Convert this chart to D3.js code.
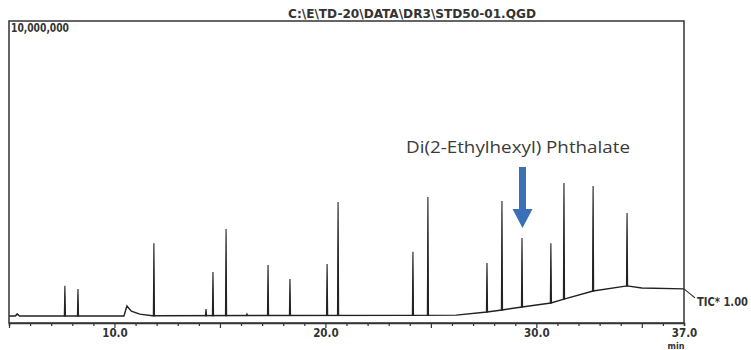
<!DOCTYPE html>
<html>
<meta charset="utf-8">
<style>
  body { margin: 0; background: #fff; }
  text { font-family: "Liberation Sans Narrow", "DejaVu Sans Condensed", sans-serif; font-weight: bold; fill: #333; }
  .note { font-family: "Open Sans", sans-serif; font-weight: normal; fill: #3a3a3a; }
</style>
<body>
  <script src="https://d3js.org/d3.v7.min.js"></script>
  <script>
    var width = 751, height = 350;

    // retention times (min) and apex heights (% of 10,000,000 full scale)
    var peakTimes = [5.38, 7.65, 8.27, 11.87, 14.34, 14.67, 15.29, 16.28, 17.28, 18.32, 20.08, 20.60,
                     24.15, 24.86, 27.66, 28.37, 29.32, 30.69, 31.31, 32.69, 34.30];
    var peakHeights = [2.7, 12.0, 11.0, 26.2, 4.3, 16.6, 30.9, 2.7, 18.9, 14.3, 19.3, 39.9,
                       23.3, 41.5, 19.6, 40.2, 27.9, 26.2, 46.2, 45.2, 36.2];

    // baseline drift of the TIC trace
    var baseTimes = [5.0, 5.3, 5.4, 5.5, 10.45, 10.59, 10.8, 11.2, 11.8, 24.0, 26.2, 27.66, 28.37, 29.32,
                     30.69, 31.31, 32.69, 34.30, 35.0, 37.0];
    var baseValues = [2.0, 2.0, 2.6, 2.0, 2.0, 5.3, 3.6, 2.6, 2.1, 2.2, 2.3, 3.3, 4.0, 5.0,
                      6.3, 7.6, 10.3, 12.0, 11.3, 11.0];

    var labelTicks = [10, 20, 30, 37];
    var majorTicks = [5, 10, 15, 20, 25, 30, 35];

    var margin = {top: 21, right: 67, bottom: 28, left: 9};
    var x = d3.scaleLinear().domain([5, 37]).range([margin.left, width - margin.right]);
    var y = d3.scaleLinear().domain([0, 100]).range([height - margin.bottom, margin.top]);

    var svg = d3.select("body").append("svg")
        .attr("width", width)
        .attr("height", height);

    // trace
    var baseline = baseTimes.map((t, i) => [t, baseValues[i]]);
    var baseAt = d3.scaleLinear().domain(baseTimes).range(baseValues);

    svg.append("path")
        .datum(baseline)
        .attr("fill", "none")
        .attr("stroke", "#222")
        .attr("stroke-width", 1.4)
        .attr("d", d3.line().x(d => x(d[0])).y(d => y(d[1])));

    svg.append("g")
        .selectAll("path")
        .data(peakTimes.map((t, i) => [t, peakHeights[i]]))
        .join("path")
          .attr("fill", "#222")
          .attr("stroke", "#222")
          .attr("stroke-width", 1.1)
          .attr("d", d => {
            var b = y(baseAt(d[0]));
            return `M${x(d[0]) - 0.6},${b}L${x(d[0])},${y(d[1])}L${x(d[0]) + 0.6},${b}Z`;
          });

    // frame
    svg.append("rect")
        .attr("x", x(5))
        .attr("y", margin.top)
        .attr("width", x(37) - x(5))
        .attr("height", y(0) - margin.top + 1)
        .attr("fill", "none")
        .attr("stroke", "#333")
        .attr("stroke-width", 1.5);

    // x axis
    var axis = svg.append("g")
        .attr("transform", `translate(0,${y(0) + 1})`)
        .call(d3.axisBottom(x)
          .tickValues(d3.range(5, 38))
          .tickSize(3)
          .tickPadding(3)
          .tickFormat(d => labelTicks.includes(d) ? d.toFixed(1) : ""));
    axis.select(".domain").attr("stroke", "#333").attr("stroke-width", 1.5);
    axis.selectAll(".tick line")
        .attr("stroke", "#333")
        .attr("stroke-width", 1.2)
        .attr("y2", d => majorTicks.includes(d) ? 5 : 3);
    axis.selectAll(".tick text")
        .attr("fill", "#333")
        .style("font-size", "11.5px")
        .style("font-family", "'Liberation Sans Narrow', 'DejaVu Sans Condensed', sans-serif")
        .style("font-weight", "bold");

    svg.append("text")
        .attr("x", x(37) - 8)
        .attr("y", 349)
        .attr("text-anchor", "middle")
        .style("font-size", "9px")
        .text("min");

    // labels
    svg.append("text")
        .attr("x", 412)
        .attr("y", 18)
        .attr("text-anchor", "middle")
        .attr("textLength", 248)
        .attr("lengthAdjust", "spacingAndGlyphs")
        .style("font-size", "12px")
        .text("C:\\E\\TD-20\\DATA\\DR3\\STD50-01.QGD");

    svg.append("text")
        .attr("x", 11)
        .attr("y", 32)
        .attr("textLength", 58)
        .attr("lengthAdjust", "spacingAndGlyphs")
        .style("font-size", "12px")
        .text("10,000,000");

    svg.append("path")
        .attr("d", `M${x(37)},${y(baseAt(37))}L${x(37) + 11},${y(baseAt(37)) + 9}`)
        .attr("stroke", "#333")
        .attr("stroke-width", 1.2)
        .attr("fill", "none");

    svg.append("text")
        .attr("x", 697)
        .attr("y", 306)
        .attr("textLength", 51)
        .attr("lengthAdjust", "spacingAndGlyphs")
        .style("font-size", "12px")
        .text("TIC* 1.00");

    // annotation for DEHP
    var dehp = peakTimes[16];
    svg.append("text")
        .attr("class", "note")
        .attr("x", 406)
        .attr("y", 153)
        .attr("textLength", 224)
        .attr("lengthAdjust", "spacingAndGlyphs")
        .style("font-size", "15.5px")
        .text("Di(2-Ethylhexyl) Phthalate");

    var ax = x(dehp) + 0.5;
    svg.append("path")
        .attr("fill", "#3a70b5")
        .attr("d", `M${ax - 3.5},167H${ax + 3.5}V209H${ax + 10}L${ax},228L${ax - 10},209H${ax - 3.5}Z`);
  </script>
</body>
</html>
